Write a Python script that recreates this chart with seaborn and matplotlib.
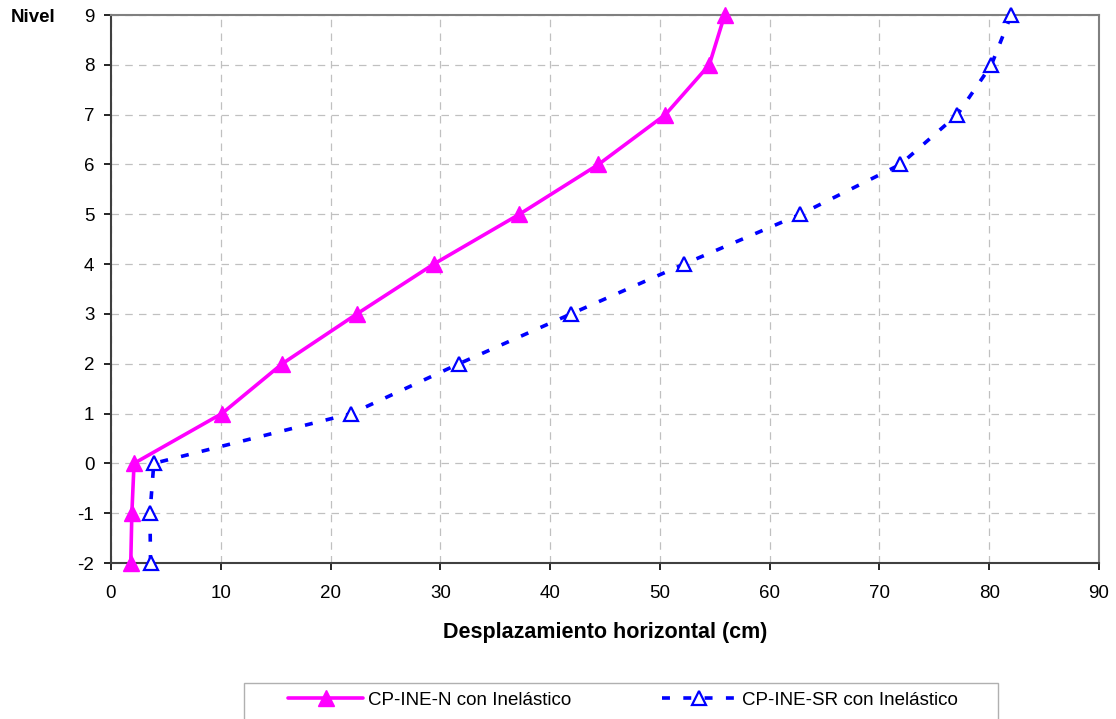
import matplotlib
matplotlib.use("Agg")
import matplotlib.pyplot as plt
from matplotlib.patches import Rectangle
import seaborn as sns
import pandas as pd

niveles = [-2, -1, 0, 1, 2, 3, 4, 5, 6, 7, 8, 9]
desp_n = [1.8, 1.9, 2.1, 10.1, 15.6, 22.4, 29.4, 37.2, 44.4, 50.5, 54.5, 55.9]
desp_sr = [3.6, 3.55, 3.9, 21.9, 31.7, 41.9, 52.2, 62.8, 71.9, 77.1, 80.2, 82.0]
serie_n = "CP-INE-N con Inelástico"
serie_sr = "CP-INE-SR con Inelástico"

sns.set_theme(style="white")
plt.rcParams['font.family'] = ['Liberation Sans', 'DejaVu Sans']
plt.rcParams['axes.unicode_minus'] = False
plt.rcParams['text.color'] = 'black'

W, H = 1116, 719
fig = plt.figure(figsize=(W / 100, H / 100), dpi=100)
ax = fig.add_axes([111 / W, 1 - 563 / H, (1099 - 111) / W, (563 - 15) / H])

df_n = pd.DataFrame({"x": desp_n, "y": niveles})
df_sr = pd.DataFrame({"x": desp_sr, "y": niveles})

sns.lineplot(data=df_n, x="x", y="y", sort=False, estimator=None, ax=ax,
             color="#FF00FF", linewidth=2.6, marker="^", markersize=11,
             markerfacecolor="#FF00FF", markeredgecolor="#FF00FF", markeredgewidth=1,
             label=serie_n, clip_on=False, zorder=4)
sns.lineplot(data=df_sr, x="x", y="y", sort=False, estimator=None, ax=ax,
             color="#0000FF", linewidth=2.6, marker="^", markersize=10.5,
             markerfacecolor="white", markeredgecolor="#0000FF", markeredgewidth=1.6,
             label=serie_sr, clip_on=False, zorder=3)
ax.lines[1].set_linestyle((0, (2.2, 3.7)))

ax.set_xlim(0, 90)
ax.set_ylim(-2, 9)
ax.set_xticks(range(0, 91, 10))
ax.set_yticks(range(-2, 10))
ax.tick_params(axis="both", labelsize=13.5, colors="black", labelcolor="black",
               length=5, width=1.2, direction="out", bottom=True, left=True)
ax.tick_params(axis="x", pad=10.5)
ax.tick_params(axis="y", pad=7)
ax.grid(True, color="#C0C0C0", linestyle=(0, (6, 5)), linewidth=0.9)
ax.set_axisbelow(True)
for s in ["left", "bottom"]:
    ax.spines[s].set_color("#404040")
    ax.spines[s].set_linewidth(1.5)
for s in ["top", "right"]:
    ax.spines[s].set_color("#808080")
    ax.spines[s].set_linewidth(1.5)

ax.set_xlabel("Desplazamiento horizontal (cm)", fontsize=15.5, fontweight="bold",
              labelpad=15, color="black")
ax.set_ylabel("")
fig.text(33 / W, 1 - 17 / H, "Nivel", fontsize=13.5, fontweight="bold",
         ha="center", va="center", color="black")

ax.get_legend().remove()
handles, labels = ax.get_legend_handles_labels()
leg = fig.legend(handles, labels, ncol=2, loc="center",
                 bbox_to_anchor=(623 / W, 1 - 700 / H), fontsize=13.5,
                 frameon=False, handlelength=4.0, handletextpad=0.27,
                 borderpad=0, columnspacing=4.8)
for t in leg.get_texts():
    t.set_color("black")
fig.patches.append(Rectangle((244 / W, -0.01), (998 - 244) / W, (719 - 683) / H + 0.01,
                             transform=fig.transFigure, fill=False,
                             edgecolor="#B0B0B0", linewidth=1.0))

fig.savefig("out.png", dpi=100)
